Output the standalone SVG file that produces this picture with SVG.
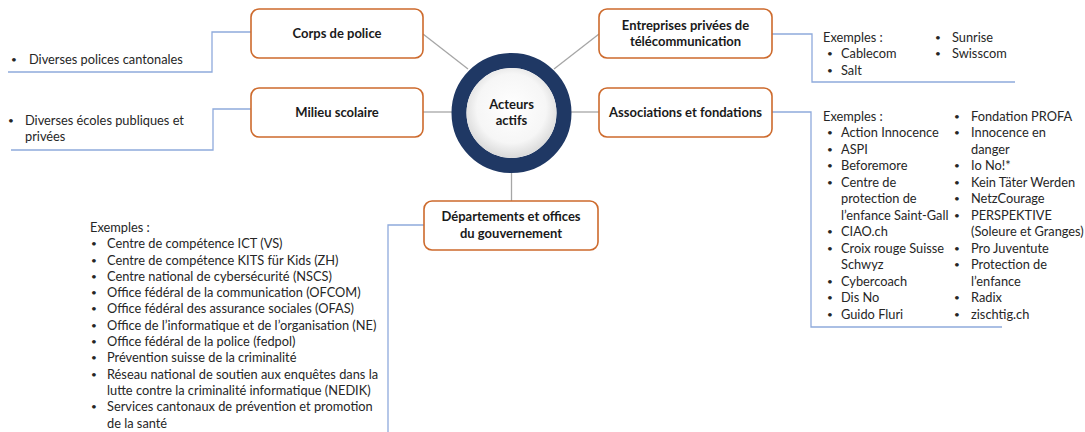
<svg xmlns="http://www.w3.org/2000/svg" width="1085" height="432" viewBox="0 0 1085 432">
  <defs>
    <radialGradient id="hubFill" cx="50%" cy="45%" r="55%">
      <stop offset="0" stop-color="#ffffff"/>
      <stop offset="0.7" stop-color="#f6f6f6"/>
      <stop offset="1" stop-color="#d9d9d9"/>
    </radialGradient>
  </defs>
  <style>
    .box { fill: #ffffff; stroke: #cd6a2c; stroke-width: 1.6; }
    .title { font-family: Lato, "Liberation Sans", sans-serif; font-size: 13px; font-weight: bold; fill: #1a1a1a; text-anchor: middle; }
    .txt { font-family: Lato, "Liberation Sans", sans-serif; font-size: 12.8px; fill: #262626; }
    .txt .b { font-size: 10px; }
    .spoke { stroke: #a6a6a6; stroke-width: 1.3; fill: none; }
    .bracket { stroke: #8faadc; stroke-width: 1.3; fill: none; }
  </style>
  <rect width="1085" height="432" fill="#ffffff"/>

  <!-- connectors: hub spokes and list brackets -->
  <g id="connectors">
    <line class="spoke" x1="423" y1="34" x2="468" y2="69"/>
    <line class="spoke" x1="599" y1="34" x2="554" y2="69"/>
    <line class="spoke" x1="423" y1="112" x2="452" y2="112"/>
    <line class="spoke" x1="571" y1="112" x2="599" y2="112"/>
    <line class="spoke" x1="511.5" y1="172" x2="511.5" y2="201"/>
    <polyline class="bracket" points="251,32 212,32 212,72 8,72"/>
    <polyline class="bracket" points="251,109 213,109 213,150 11,150"/>
    <polyline class="bracket" points="772,34 812,34 812,82 1015,82"/>
    <polyline class="bracket" points="772,112 811,112 811,327 1002,327"/>
    <polyline class="bracket" points="424,225 388,225 388,432"/>
  </g>

  <!-- central hub -->
  <g id="hub">
    <circle cx="511.5" cy="113" r="52.5" fill="none" stroke="#1f3864" stroke-width="15"/>
    <circle cx="511.5" cy="113" r="45" fill="url(#hubFill)"/>
    <text class="title" x="511.5" y="109">Acteurs</text>
    <text class="title" x="511.5" y="125">actifs</text>
  </g>

  <g id="police">
    <rect class="box" x="251" y="9" width="172" height="49" rx="8"/>
    <text class="title" x="337" y="38">Corps de police</text>
    <g class="txt">
      <text class="b" x="11" y="63">•</text>
      <text x="29" y="64">Diverses polices cantonales</text>
    </g>
  </g>

  <g id="ecole">
    <rect class="box" x="251" y="88" width="172" height="49" rx="8"/>
    <text class="title" x="337" y="117">Milieu scolaire</text>
    <g class="txt">
      <text class="b" x="8" y="124">•</text>
      <text x="25" y="125">Diverses écoles publiques et</text>
      <text x="25" y="141">privées</text>
    </g>
  </g>

  <g id="telecom">
    <rect class="box" x="599" y="9" width="173" height="49" rx="8"/>
    <text class="title" x="685.5" y="30">Entreprises privées de</text>
    <text class="title" x="685.5" y="46">télécommunication</text>
    <g class="txt">
      <text x="823" y="42">Exemples :</text>
      <text class="b" x="827" y="57">•</text><text x="841" y="58">Cablecom</text>
      <text class="b" x="827" y="74">•</text><text x="841" y="75">Salt</text>
      <text class="b" x="935" y="41">•</text><text x="952" y="42">Sunrise</text>
      <text class="b" x="935" y="57">•</text><text x="952" y="58">Swisscom</text>
    </g>
  </g>

  <g id="associations">
    <rect class="box" x="599" y="88" width="173" height="49" rx="8"/>
    <text class="title" x="685.5" y="117">Associations et fondations</text>
    <g class="txt">
      <text x="823" y="120.5">Exemples :</text>
      <text class="b" x="827" y="136">•</text><text x="841" y="137">Action Innocence</text>
      <text class="b" x="827" y="152.5">•</text><text x="841" y="153.5">ASPI</text>
      <text class="b" x="827" y="169">•</text><text x="841" y="170">Beforemore</text>
      <text class="b" x="827" y="185.5">•</text><text x="841" y="186.5">Centre de</text>
      <text x="841" y="203">protection de</text>
      <text x="841" y="219.5">l’enfance Saint-Gall</text>
      <text class="b" x="827" y="235">•</text><text x="841" y="236">CIAO.ch</text>
      <text class="b" x="827" y="251.5">•</text><text x="841" y="252.5">Croix rouge Suisse</text>
      <text x="841" y="269">Schwyz</text>
      <text class="b" x="827" y="284.5">•</text><text x="841" y="285.5">Cybercoach</text>
      <text class="b" x="827" y="301">•</text><text x="841" y="302">Dis No</text>
      <text class="b" x="827" y="317.5">•</text><text x="841" y="318.5">Guido Fluri</text>

      <text class="b" x="954" y="119.5">•</text><text x="971" y="120.5">Fondation PROFA</text>
      <text class="b" x="954" y="136">•</text><text x="971" y="137">Innocence en</text>
      <text x="971" y="153.5">danger</text>
      <text class="b" x="954" y="169">•</text><text x="971" y="170">Io No!*</text>
      <text class="b" x="954" y="185.5">•</text><text x="971" y="186.5">Kein Täter Werden</text>
      <text class="b" x="954" y="202">•</text><text x="971" y="203">NetzCourage</text>
      <text class="b" x="954" y="218.5">•</text><text x="971" y="219.5">PERSPEKTIVE</text>
      <text x="971" y="236">(Soleure et Granges)</text>
      <text class="b" x="954" y="251.5">•</text><text x="971" y="252.5">Pro Juventute</text>
      <text class="b" x="954" y="268">•</text><text x="971" y="269">Protection de</text>
      <text x="971" y="285.5">l’enfance</text>
      <text class="b" x="954" y="301">•</text><text x="971" y="302">Radix</text>
      <text class="b" x="954" y="317.5">•</text><text x="971" y="318.5">zischtig.ch</text>
    </g>
  </g>

  <g id="gouvernement">
    <rect class="box" x="424" y="201" width="174" height="49" rx="8"/>
    <text class="title" x="511" y="221">Départements et offices</text>
    <text class="title" x="511" y="238">du gouvernement</text>
    <g class="txt">
      <text x="90" y="231.5">Exemples :</text>
      <text class="b" x="91" y="247">•</text><text x="107" y="248">Centre de compétence ICT (VS)</text>
      <text class="b" x="91" y="263.5">•</text><text x="107" y="264.5">Centre de compétence KITS für Kids (ZH)</text>
      <text class="b" x="91" y="279.5">•</text><text x="107" y="280.5">Centre national de cybersécurité (NSCS)</text>
      <text class="b" x="91" y="296">•</text><text x="107" y="297">Office fédéral de la communication (OFCOM)</text>
      <text class="b" x="91" y="312">•</text><text x="107" y="313">Office fédéral des assurance sociales (OFAS)</text>
      <text class="b" x="91" y="328.5">•</text><text x="107" y="329.5">Office de l’informatique et de l’organisation (NE)</text>
      <text class="b" x="91" y="345">•</text><text x="107" y="346">Office fédéral de la police (fedpol)</text>
      <text class="b" x="91" y="361">•</text><text x="107" y="362">Prévention suisse de la criminalité</text>
      <text class="b" x="91" y="377.5">•</text><text x="107" y="378.5">Réseau national de soutien aux enquêtes dans la</text>
      <text x="107" y="395">lutte contre la criminalité informatique (NEDIK)</text>
      <text class="b" x="91" y="410">•</text><text x="107" y="411">Services cantonaux de prévention et promotion</text>
      <text x="107" y="427.5">de la santé</text>
    </g>
  </g>
</svg>
